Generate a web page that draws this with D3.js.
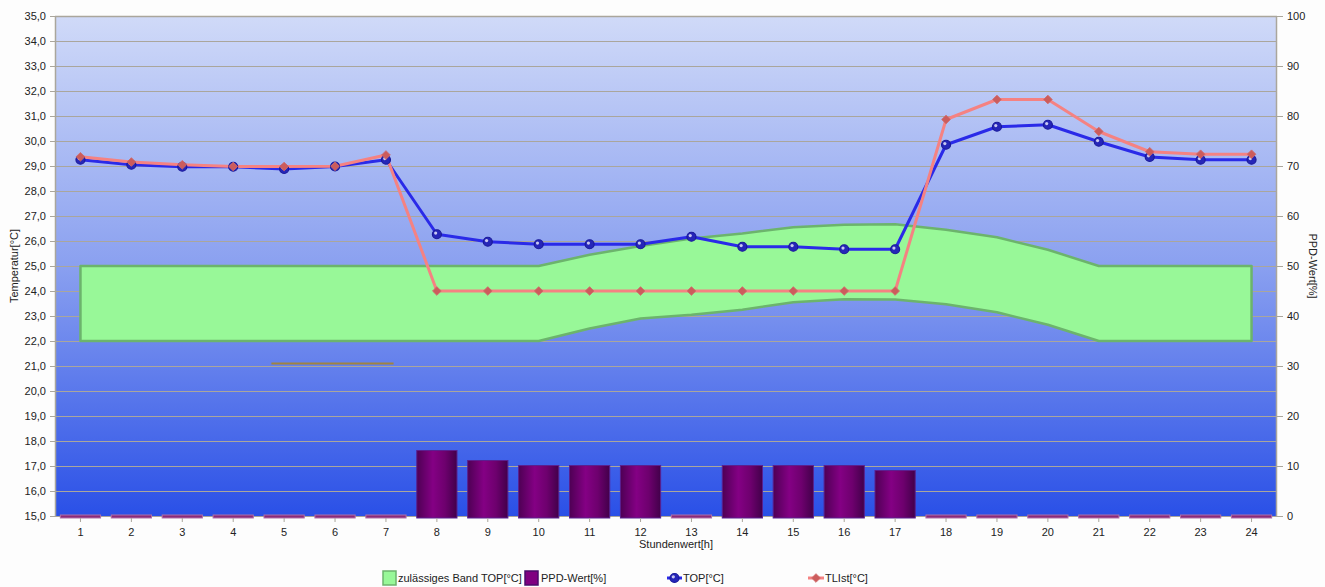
<!DOCTYPE html>
<html><head><meta charset="utf-8">
<script src="https://cdn.jsdelivr.net/npm/d3@7"></script>
<style>
html,body{margin:0;padding:0;background:#fff;}
svg{display:block;font-family:"Liberation Sans",Arial,sans-serif;}
</style></head>
<body><svg id="c" width="1325" height="587"></svg>
<script>
const hours = d3.range(1,25).map(String);
const bandUpper = [25,25,25,25,25,25,25,25,25,25,25.45,25.8,26.1,26.3,26.55,26.65,26.67,26.45,26.15,25.65,25,25,25,25];
const bandLower = [22,22,22,22,22,22,22,22,22,22,22.5,22.9,23.05,23.25,23.55,23.67,23.66,23.47,23.15,22.65,22,22,22,22];
const ppd = [0,0,0,0,0,0,0,13.1,11.1,10.1,10.1,10.1,0,10.1,10.1,10.1,9.1,0,0,0,0,0,0,0];
const top_ = [29.25,29.05,28.97,28.97,28.88,28.98,29.25,26.27,25.97,25.87,25.87,25.87,26.17,25.77,25.77,25.67,25.67,29.85,30.57,30.65,29.97,29.36,29.25,29.25];
const tlist = [29.37,29.16,29.05,28.98,28.98,28.99,29.44,24,24,24,24,24,24,24,24,24,24,30.86,31.66,31.66,30.38,29.57,29.47,29.47];
const leftTicks = d3.range(15,35.5,1);
const rightTicks = d3.range(0,101,10);
const strayLine = {value:21.1, from:4.75, to:7.15};
const legendItems = ["zulässiges Band TOP[°C]","PPD-Wert[%]","TOP[°C]","TLIst[°C]"];

const svg = d3.select("#c");
const L=55, R=1277, T=16, B=516;
const x = d3.scaleBand().domain(hours).range([L,R]).padding(0);
const cx = h => x(h) + x.bandwidth()/2;
const xLin = d3.scaleLinear().domain([1,24]).range([cx("1"),cx("24")]);
const yL = d3.scaleLinear().domain([15,35]).range([B,T]);
const yR = d3.scaleLinear().domain([0,100]).range([B,T]);

const defs = svg.append("defs");
const bg = defs.append("linearGradient").attr("id","bg").attr("x1",0).attr("y1",0).attr("x2",0).attr("y2",1);
bg.append("stop").attr("offset","0%").attr("stop-color","#d0daf8");
bg.append("stop").attr("offset","50%").attr("stop-color","#8aa0f0");
bg.append("stop").attr("offset","100%").attr("stop-color","#2a50e7");
const bar = defs.append("linearGradient").attr("id","bar").attr("x1",0).attr("y1",0).attr("x2",1).attr("y2",0);
bar.append("stop").attr("offset","0%").attr("stop-color","#4e0054");
bar.append("stop").attr("offset","40%").attr("stop-color","#840084");
bar.append("stop").attr("offset","70%").attr("stop-color","#6e006e");
bar.append("stop").attr("offset","100%").attr("stop-color","#42004a");

// background
svg.append("rect").attr("x",0).attr("y",0).attr("width",1325).attr("height",587).attr("fill","#fdfdfd");
svg.append("rect").attr("x",L).attr("y",T).attr("width",R-L).attr("height",B-T).attr("fill","url(#bg)");

// gridlines
svg.append("g").selectAll("line").data(leftTicks).join("line")
  .attr("x1",L).attr("x2",R).attr("y1",d=>Math.round(yL(d))+0.5).attr("y2",d=>Math.round(yL(d))+0.5)
  .attr("stroke","#aaa69c").attr("stroke-width",1.2);

// band
const area = d3.area().x((d,i)=>cx(hours[i])).y0((d,i)=>yL(bandLower[i])).y1((d,i)=>yL(bandUpper[i]));
svg.append("path").datum(hours).attr("d",area)
  .attr("fill","#98f898").attr("stroke","#6cb46c").attr("stroke-width",2.5).attr("stroke-linejoin","round");

// stray line
svg.append("line").attr("x1",xLin(strayLine.from)).attr("x2",xLin(strayLine.to))
  .attr("y1",yL(strayLine.value)).attr("y2",yL(strayLine.value))
  .attr("stroke","#a08440").attr("stroke-width",2);

// bars
const bw = x.bandwidth()*0.79;
svg.append("g").selectAll("rect").data(ppd).join("rect")
  .attr("x",(d,i)=>cx(hours[i])-bw/2).attr("width",bw)
  .attr("y",d=>d>0?yR(d):B-1).attr("height",d=>d>0?B-yR(d)+2:3)
  .attr("fill",d=>d>0?"url(#bar)":"#8a2a7a").attr("stroke",d=>d>0?"#5a2090":"#b070a8").attr("stroke-width",1);

// axes
const ax = svg.append("g");
ax.append("line").attr("x1",L+0.5).attr("x2",L+0.5).attr("y1",T).attr("y2",B).attr("stroke","#aaa69c").attr("stroke-width",1.5);
ax.append("line").attr("x1",R-0.5).attr("x2",R-0.5).attr("y1",T).attr("y2",B).attr("stroke","#aaa69c").attr("stroke-width",1.5);
ax.append("line").attr("x1",L).attr("x2",R).attr("y1",T+0.5).attr("y2",T+0.5).attr("stroke","#aaa69c").attr("stroke-width",1.5);

const leftAxis = d3.axisLeft(yL).tickValues(leftTicks).tickFormat(d=>d3.format(".1f")(d).replace(".",",")).tickSize(5).tickPadding(4);
const gl = svg.append("g").attr("transform",`translate(${L},0)`).call(leftAxis);
const rightAxis = d3.axisRight(yR).tickValues(rightTicks).tickSize(6).tickPadding(4);
const gr = svg.append("g").attr("transform",`translate(${R},0)`).call(rightAxis);
const bottomAxis = d3.axisBottom(x).tickSize(4).tickPadding(6);
const gb = svg.append("g").attr("transform",`translate(0,${B+2})`).call(bottomAxis);
[gl,gr,gb].forEach(g=>{
  g.select(".domain").remove();
  g.selectAll(".tick line").attr("stroke","#aaa69c");
  g.selectAll("text").attr("font-size",11).attr("fill","#222").attr("font-family","'Liberation Sans',Arial,sans-serif");
});

// axis titles
svg.append("text").attr("x",(L+R)/2+10).attr("y",548).attr("text-anchor","middle").attr("font-size",11).attr("fill","#222").text("Stundenwert[h]");
svg.append("text").attr("transform",`translate(18,${(T+B)/2}) rotate(-90)`).attr("text-anchor","middle").attr("font-size",11).attr("fill","#222").text("Temperatur[°C]");
svg.append("text").attr("transform",`translate(1309,${(T+B)/2}) rotate(90)`).attr("text-anchor","middle").attr("font-size",11).attr("fill","#222").text("PPD-Wert[%]");

// lines
const lineGen = arr => d3.line().x((d,i)=>cx(hours[i])).y(d=>yL(d))(arr);
svg.append("path").attr("d",lineGen(top_)).attr("fill","none").attr("stroke","#2a2ae8").attr("stroke-width",3).attr("stroke-linejoin","round");
svg.append("path").attr("d",lineGen(tlist)).attr("fill","none").attr("stroke","#f58282").attr("stroke-width",3).attr("stroke-linejoin","round");

function circleMarker(g,px,py){
  g.append("circle").attr("cx",px).attr("cy",py).attr("r",4.5).attr("fill","#2626b8").attr("stroke","#1a1a9a").attr("stroke-width",1.2);
  g.append("circle").attr("cx",px-1.2).attr("cy",py-1.2).attr("r",1.6).attr("fill","#c8c8f0");
}
function diamondMarker(g,px,py){
  g.append("path").attr("d",d3.symbol().type(d3.symbolSquare).size(38)()).attr("transform",`translate(${px},${py}) rotate(45)`).attr("fill","#cc5c5c").attr("stroke","#d06a6a").attr("stroke-width",0.8);
}
const mg = svg.append("g");
top_.forEach((v,i)=>circleMarker(mg,cx(hours[i]),yL(v)));
tlist.forEach((v,i)=>diamondMarker(mg,cx(hours[i]),yL(v)));

// legend
const lg = svg.append("g").attr("font-size",11).attr("fill","#222");
lg.append("rect").attr("x",383).attr("y",571).attr("width",13).attr("height",14).attr("fill","#98f898").attr("stroke","#6cb46c").attr("stroke-width",1.5);
lg.append("text").attr("x",398).attr("y",582).text(legendItems[0]);
lg.append("rect").attr("x",525).attr("y",571).attr("width",13).attr("height",14).attr("fill","#800080").attr("stroke","#4a0a6a").attr("stroke-width",1.5);
lg.append("text").attr("x",541).attr("y",582).text(legendItems[1]);
lg.append("line").attr("x1",667).attr("x2",682).attr("y1",578).attr("y2",578).attr("stroke","#2a2ae8").attr("stroke-width",3);
circleMarker(lg,674.5,578);
lg.append("text").attr("x",683).attr("y",582).text(legendItems[2]);
lg.append("line").attr("x1",808).attr("x2",824).attr("y1",578).attr("y2",578).attr("stroke","#f58282").attr("stroke-width",3);
diamondMarker(lg,816,578);
lg.append("text").attr("x",825).attr("y",582).text(legendItems[3]);
</script></body></html>
